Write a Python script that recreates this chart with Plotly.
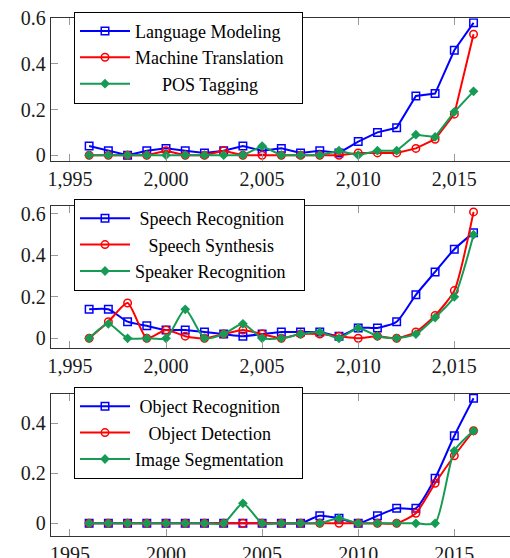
import plotly.graph_objects as go

years = list(range(1996, 2017))

# Panel 1
lang_modeling = [0.04, 0.02, 0.0, 0.02, 0.03, 0.02, 0.01, 0.02, 0.04, 0.02, 0.03,
                 0.01, 0.02, 0.01, 0.06, 0.10, 0.12, 0.26, 0.27, 0.46, 0.58]
machine_translation = [0.0, 0.0, 0.0, 0.0, 0.02, 0.0, 0.0, 0.02, 0.0, 0.0, 0.0,
                       0.0, 0.0, 0.0, 0.01, 0.01, 0.01, 0.03, 0.07, 0.18, 0.53]
pos_tagging = [0.0, 0.0, 0.0, 0.0, 0.0, 0.0, 0.0, 0.0, 0.0, 0.04, 0.0,
               0.0, 0.0, 0.02, 0.0, 0.02, 0.02, 0.09, 0.08, 0.19, 0.28]

# Panel 2
speech_recognition = [0.14, 0.14, 0.08, 0.06, 0.04, 0.04, 0.03, 0.02, 0.01, 0.02, 0.03,
                      0.03, 0.03, 0.01, 0.05, 0.05, 0.08, 0.21, 0.32, 0.43, 0.51]
speech_synthesis = [0.0, 0.08, 0.17, 0.0, 0.04, 0.01, 0.0, 0.02, 0.04, 0.02, 0.0,
                    0.02, 0.02, 0.01, 0.0, 0.01, 0.0, 0.03, 0.11, 0.23, 0.61]
speaker_recognition = [0.0, 0.07, 0.0, 0.0, 0.0, 0.14, 0.0, 0.02, 0.07, 0.0, 0.0,
                       0.02, 0.03, 0.0, 0.05, 0.01, 0.0, 0.02, 0.10, 0.20, 0.50]

# Panel 3
object_recognition = [0.0, 0.0, 0.0, 0.0, 0.0, 0.0, 0.0, 0.0, 0.0, 0.0, 0.0,
                      0.0, 0.03, 0.02, 0.0, 0.03, 0.06, 0.06, 0.18, 0.35, 0.50]
object_detection = [0.0, 0.0, 0.0, 0.0, 0.0, 0.0, 0.0, 0.0, 0.0, 0.0, 0.0,
                    0.0, 0.0, 0.0, 0.0, 0.0, 0.0, 0.04, 0.16, 0.27, 0.37]
image_segmentation = [0.0, 0.0, 0.0, 0.0, 0.0, 0.0, 0.0, 0.0, 0.08, 0.0, 0.0,
                      0.0, 0.0, 0.02, 0.0, 0.0, 0.0, 0.0, 0.0, 0.29, 0.37]

x_tickvals = [1995, 2000, 2005, 2010, 2015]
x_ticktext_comma = ["1,995", "2,000", "2,005", "2,010", "2,015"]
x_ticktext_plain = ["1995", "2000", "2005", "2010", "2015"]
y_tickvals_12 = [0, 0.2, 0.4, 0.6]
y_ticktext_12 = ["0", "0.2", "0.4", "0.6"]
y_tickvals_3 = [0, 0.2, 0.4]
y_ticktext_3 = ["0", "0.2", "0.4"]

BLUE = "#0000ff"
RED = "#ff0000"
GREEN = "#169b55"
W, H = 510, 558
NB = "\u00a0"

# legend label padding (to mimic centred legend text)
panels = [
    dict(series=[("Language Modeling", lang_modeling, 0, 0),
                 ("Machine Translation", machine_translation, 0, 3),
                 ("POS Tagging", pos_tagging, 6, 0)],
         top=18.3, bottom=160.7, yrange=[-0.024, 0.6], ytv=y_tickvals_12, ytt=y_ticktext_12,
         xtt=x_ticktext_comma, shape="linear", leg=(74, 11.7)),
    dict(series=[("Speech Recognition", speech_recognition, 1, 0),
                 ("Speech Synthesis", speech_synthesis, 3, 0),
                 ("Speaker Recognition", speaker_recognition, 0, 3)],
         top=205.7, bottom=348.0, yrange=[-0.047, 0.64], ytv=y_tickvals_12, ytt=y_ticktext_12,
         xtt=x_ticktext_comma, shape="spline", leg=(74, 199)),
    dict(series=[("Object Recognition", object_recognition, 1, 0),
                 ("Object Detection", object_detection, 3, 0),
                 ("Image Segmentation", image_segmentation, 0, 3)],
         top=394.0, bottom=536.3, yrange=[-0.052, 0.517], ytv=y_tickvals_3, ytt=y_ticktext_3,
         xtt=x_ticktext_plain, shape="spline", leg=(74, 387)),
]

styles = [
    (BLUE, dict(symbol="square-open", size=7.5, color=BLUE, line=dict(width=1.5, color=BLUE))),
    (RED, dict(symbol="circle-open", size=7.5, color=RED, line=dict(width=1.5, color=RED))),
    (GREEN, dict(symbol="diamond", size=7.5, color=GREEN, line=dict(width=0, color=GREEN))),
]

fig = go.Figure()
left_px = 50.7
px_per_year = 19.22
x0 = 1994.0
x1 = x0 + (W - left_px) / px_per_year

SERIF = "Liberation Serif, DejaVu Serif, Noto Serif, serif"
axis_font = dict(family=SERIF, size=20, color="#1a1a1a")
legend_font = dict(family=SERIF, size=18, color="#000")

layout_updates = {}
for i, p in enumerate(panels):
    n = i + 1
    xa = "x" if n == 1 else f"x{n}"
    ya = "y" if n == 1 else f"y{n}"
    legname = "legend" if n == 1 else f"legend{n}"
    for (name, vals, lpad, rpad), (col, mk) in zip(p["series"], styles):
        fig.add_trace(go.Scatter(
            x=years, y=vals, name=NB * lpad + name + NB * rpad, mode="lines+markers",
            line=dict(color=col, width=2, shape=p["shape"], smoothing=0.6),
            marker=mk, xaxis=xa, yaxis=ya, legend=legname,
        ))
    xkey = "xaxis" if n == 1 else f"xaxis{n}"
    ykey = "yaxis" if n == 1 else f"yaxis{n}"
    layout_updates[xkey] = dict(
        domain=[left_px / W, 1.0], range=[x0, x1], anchor=ya, automargin=False,
        tickvals=x_tickvals, ticktext=p["xtt"], ticks="inside", ticklen=7,
        tickcolor="#999999", tickwidth=1, showgrid=False, zeroline=False,
        showline=True, linecolor="#333333", linewidth=1, mirror="ticks",
        tickfont=axis_font,
    )
    layout_updates[ykey] = dict(
        domain=[1 - p["bottom"] / H, 1 - p["top"] / H], range=p["yrange"], anchor=xa,
        automargin=False,
        tickvals=p["ytv"], ticktext=p["ytt"], ticks="inside", ticklen=7,
        tickcolor="#999999", tickwidth=1, showgrid=False, zeroline=False,
        showline=True, linecolor="#333333", linewidth=1,
        tickfont=axis_font,
    )
    lx, ly = p["leg"]
    layout_updates[legname] = dict(
        x=lx / W, y=1 - ly / H, xanchor="left", yanchor="top",
        bgcolor="white", bordercolor="#000", borderwidth=1,
        font=legend_font, itemwidth=50, tracegroupgap=0,
    )

fig.update_layout(
    width=W, height=H, margin=dict(l=0, r=0, t=0, b=0, autoexpand=False),
    paper_bgcolor="white", plot_bgcolor="white", showlegend=True,
    font=dict(family=SERIF),
    **layout_updates,
)

fig.write_html(
    "out.html",
    config={"displayModeBar": False},
    post_script="document.body.style.margin='0';document.body.style.overflow='hidden';",
)
